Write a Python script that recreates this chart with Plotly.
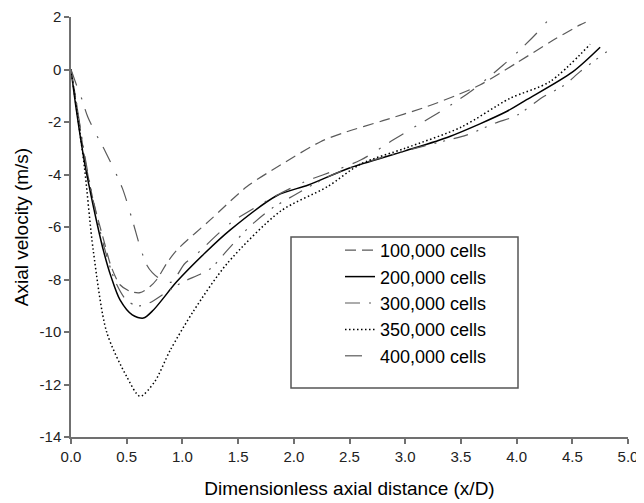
import plotly.graph_objects as go

# axial velocity (m/s) against x/D
x_100k = [0, 0.05, 0.12, 0.2, 0.3, 0.36, 0.44, 0.53, 0.62, 0.71, 0.77, 0.86, 0.95, 1.25, 1.58,
          1.88, 2.24, 2.44, 2.8, 3.19, 3.45, 3.67, 4.0, 4.33, 4.57, 4.62]
v_100k = [0, -1.3, -3.3, -5.0, -6.6, -7.5, -8.2, -8.45, -8.5, -8.27, -8.0, -7.38, -6.88, -5.73, -4.46,
          -3.64, -2.75, -2.42, -1.95, -1.42, -1.0, -0.59, 0.25, 1.12, 1.7, 1.8]

x_200k = [0, 0.05, 0.12, 0.2, 0.29, 0.36, 0.44, 0.55, 0.65, 0.74, 0.95, 1.2, 1.43, 1.85, 2.13,
          2.5, 3.0, 3.4, 3.91, 4.09, 4.5, 4.75]
v_200k = [0, -1.6, -3.5, -5.2, -6.88, -7.9, -8.78, -9.35, -9.47, -9.16, -8.08, -7.0, -6.11, -4.8, -4.4,
          -3.75, -3.1, -2.55, -1.6, -1.15, -0.1, 0.85]

x_300k = [0, 0.05, 0.12, 0.2, 0.3, 0.4, 0.5, 0.6, 0.7, 0.85, 1.0, 1.16, 1.26, 1.4, 1.6, 1.8, 2.0,
          2.3, 2.6, 3.0, 3.38, 3.55, 3.81, 4.0, 4.24, 4.43, 4.57, 4.81]
v_300k = [0, -1.3, -3.2, -5.0, -6.8, -8.1, -8.8, -9.0, -8.9, -8.5, -8.1, -7.8, -7.56, -6.9, -6.0, -5.3, -4.8,
          -4.1, -3.6, -3.1, -2.69, -2.5, -2.04, -1.75, -1.04, -0.59, -0.08, 0.68]

x_350k = [0, 0.05, 0.12, 0.2, 0.32, 0.5, 0.62, 0.75, 0.89, 1.1, 1.4, 1.88, 2.3, 2.6, 3.0, 3.5,
          3.94, 4.3, 4.66]
v_350k = [0, -1.5, -3.7, -6.9, -10.0, -11.7, -12.45, -11.9, -10.7, -9.2, -7.4, -5.4, -4.47, -3.6, -3.0, -2.2,
          -1.1, -0.46, 0.96]

x_400k = [0, 0.05, 0.09, 0.15, 0.23, 0.31, 0.46, 0.55, 0.62, 0.68, 0.73, 0.8, 0.9, 1.02, 1.11,
          1.43, 1.8, 2.1, 2.26, 2.6, 2.89, 3.04, 3.34, 3.6, 3.88, 4.06, 4.18, 4.3, 4.37, 4.42]
v_400k = [0, -0.6, -1.04, -1.8, -2.5, -3.14, -4.51, -5.73, -6.75, -7.45, -7.74, -7.98, -8.1, -7.4, -7.1,
          -5.86, -4.9, -4.27, -4.02, -3.45, -2.69, -2.3, -1.54, -0.8, 0.17, 0.87, 1.38, 1.95, 2.2, 2.4]

series = [
    ("100,000 cells", x_100k, v_100k, "#5a5a5a", "11px,6px", 1.2),
    ("200,000 cells", x_200k, v_200k, "#000000", "solid", 1.5),
    ("300,000 cells", x_300k, v_300k, "#5a5a5a", "15px,9px,2px,7px,2px,9px", 1.2),
    ("350,000 cells", x_350k, v_350k, "#000000", "1.5px,2.5px", 1.5),
    ("400,000 cells", x_400k, v_400k, "#5a5a5a", "17px,13px,2px,10px", 1.2),
]

y_ticks = [-14, -12, -10, -8, -6, -4, -2, 0, 2]

fig = go.Figure()
for name, xs, vs, color, dash, width in series:
    fig.add_trace(go.Scatter(
        x=xs, y=vs, name=name, mode="lines",
        line=dict(color=color, dash=dash, width=width, shape="spline", smoothing=0.8),
    ))


# page px (window coords) -> paper fraction; plot area spans x 71..628, y 17..437
def px_x(p):
    return (p - 71) / 557


def px_y(p):
    return (437 - p) / 420


# legend frame
fig.add_shape(type="rect", xref="paper", yref="paper",
              x0=px_x(291), x1=px_x(518), y0=px_y(388), y1=px_y(237),
              line=dict(color="#555555", width=1.5), fillcolor="rgba(0,0,0,0)")

axis_style = dict(
    showline=True, linecolor="#707070", linewidth=1.5, mirror=False,
    ticks="outside", ticklen=5, tickcolor="#707070", tickwidth=1.5,
    showgrid=False, zeroline=False, automargin=False,
    tickfont=dict(size=15, color="#222222"),
)

# the page body has an 8px margin, so the figure is 8px smaller than the window
fig.update_layout(
    width=636, height=495,
    margin=dict(l=63, r=16, t=9, b=66),
    paper_bgcolor="white", plot_bgcolor="white",
    font=dict(family="Liberation Sans, Arial, sans-serif", color="#000000"),
    showlegend=True,
    legend=dict(
        x=px_x(340), xanchor="left",
        y=px_y(232), yanchor="top",
        bgcolor="rgba(0,0,0,0)", borderwidth=0,
        font=dict(size=18, color="#000000"),
        tracegroupgap=0,
    ),
    xaxis=dict(axis_style, range=[0, 5], dtick=0.5, tick0=0, tickformat=".1f",
               title=dict(text="Dimensionless axial distance (x/D)", font=dict(size=19), standoff=18)),
    yaxis=dict(axis_style, range=[-14, 2], tickvals=y_ticks, ticktext=[str(t) for t in y_ticks],
               title=dict(text="Axial velocity (m/s)", font=dict(size=19), standoff=6)),
)

fig.write_html("out.html")
